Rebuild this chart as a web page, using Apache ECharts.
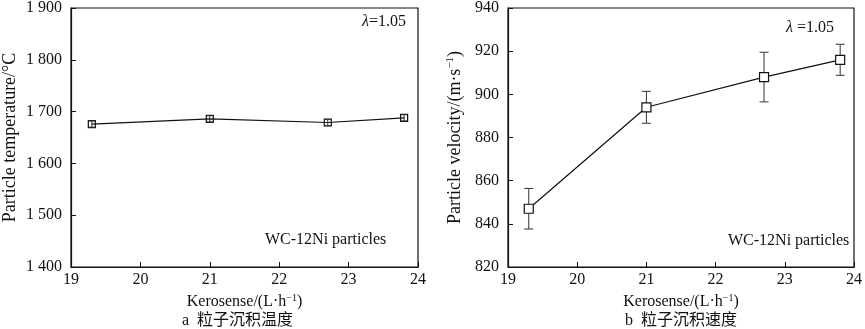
<!DOCTYPE html>
<html><head><meta charset="utf-8">
<script src="https://cdn.jsdelivr.net/npm/echarts@6/dist/echarts.min.js"></script>
<style>html,body{margin:0;padding:0;background:#fff}#c{width:865px;height:329px}</style>
</head><body><div id="c"></div>
<script>
var kerosene = [19.3, 21.0, 22.7, 23.8];
var tempVals = [1676, 1686, 1679, 1688];
var tempErr = [6, 6, 6, 6];
var velVals = [847, 894, 908, 916];
var velErr = [9.4, 7.4, 11.5, 7.2];
var xTicks = [19, 20, 21, 22, 23, 24];
var tempTicks = [1400, 1500, 1600, 1700, 1800, 1900];
var velTicks = [820, 840, 860, 880, 900, 920, 940];

var SERIF = '"Liberation Serif","Times New Roman",serif';
var chart = echarts.init(document.getElementById('c'), null, {renderer: 'canvas'});

function errItem(capW) {
  return function (params, api) {
    var x = api.value(0), y = api.value(1), e = api.value(2);
    var top = api.coord([x, y + e]), bot = api.coord([x, y - e]);
    var st = {stroke: '#333', lineWidth: 1};
    return {type: 'group', children: [
      {type: 'line', shape: {x1: top[0], y1: top[1], x2: bot[0], y2: bot[1]}, style: st},
      {type: 'line', shape: {x1: top[0] - capW, y1: top[1], x2: top[0] + capW, y2: top[1]}, style: st},
      {type: 'line', shape: {x1: bot[0] - capW, y1: bot[1], x2: bot[0] + capW, y2: bot[1]}, style: st}
    ]};
  };
}
function zipErr(vals, errs) { return kerosene.map(function (k, i) { return [k, vals[i], errs[i]]; }); }
function zip(vals) { return kerosene.map(function (k, i) { return [k, vals[i]]; }); }

var FS = 16;
var axisLbl = {color: '#111', fontFamily: SERIF, fontSize: FS};
var supStyle = {fontFamily: SERIF, fontSize: 10, color: '#111', verticalAlign: 'top', padding: [0, 0, 8, 0]};
function xAx(idx) {
  return {type: 'value', gridIndex: idx, min: 19, max: 24, interval: 1,
    axisLine: {show: true, onZero: false, lineStyle: {color: '#111', width: 1.2}},
    axisTick: {inside: true, length: 5, lineStyle: {color: '#111'}},
    axisLabel: Object.assign({margin: 5}, axisLbl),
    splitLine: {show: false},
    name: 'Kerosense/(L·h{sup|−1})', nameLocation: 'middle', nameGap: 26,
    nameTextStyle: {color: '#111', fontFamily: SERIF, fontSize: FS, rich: {sup: supStyle}}
  };
}
function yAx(idx, min, max, interval, name, gap, fmt) {
  return {type: 'value', gridIndex: idx, min: min, max: max, interval: interval,
    axisLine: {show: true, lineStyle: {color: '#111', width: 1.2}},
    axisTick: {inside: true, length: 5, lineStyle: {color: '#111'}},
    axisLabel: Object.assign({margin: 9, formatter: fmt}, axisLbl),
    splitLine: {show: false},
    name: name, nameLocation: 'middle', nameGap: gap,
    nameTextStyle: {color: '#111', fontFamily: SERIF, fontSize: 18,
      rich: {sup: {fontFamily: SERIF, fontSize: 11, color: '#111', verticalAlign: 'top', padding: [0, 0, 9, 0]}}}
  };
}

chart.setOption({
  animation: false,
  grid: [
    {left: 70, top: 6, width: 348, height: 261, show: true, borderColor: '#111', borderWidth: 1.2, backgroundColor: 'transparent'},
    {left: 508, top: 6, width: 349, height: 261, show: true, borderColor: '#111', borderWidth: 1.2, backgroundColor: 'transparent'}
  ],
  xAxis: [xAx(0), xAx(1)],
  yAxis: [
    yAx(0, 1400, 1900, 100, 'Particle temperature/°C', 52, function (v) { var s = String(v); return s.slice(0, 1) + ' ' + s.slice(1); }),
    yAx(1, 820, 940, 20, 'Particle velocity/(m·s{sup|−1})', 43, function (v) { return String(v); })
  ],
  series: [
    {type: 'custom', xAxisIndex: 0, yAxisIndex: 0, renderItem: errItem(3), data: zipErr(tempVals, tempErr), z: 3},
    {type: 'line', xAxisIndex: 0, yAxisIndex: 0, data: zip(tempVals), symbol: 'rect', symbolSize: 7,
      lineStyle: {color: '#111', width: 1.2}, itemStyle: {color: 'transparent', borderColor: '#111', borderWidth: 1.2}, z: 2},
    {type: 'custom', xAxisIndex: 1, yAxisIndex: 1, renderItem: errItem(4.5), data: zipErr(velVals, velErr), z: 1},
    {type: 'line', xAxisIndex: 1, yAxisIndex: 1, data: zip(velVals), symbol: 'rect', symbolSize: 9,
      lineStyle: {color: '#111', width: 1.2}, itemStyle: {color: '#fff', borderColor: '#111', borderWidth: 1.2}, z: 4}
  ],
  graphic: [
    {type: 'text', left: 362, top: 14, style: {text: '{i|λ}=1.05', fontFamily: SERIF, fontSize: FS, fill: '#111',
      rich: {i: {fontStyle: 'italic', fontFamily: SERIF, fontSize: FS, fill: '#111'}}}},
    {type: 'text', left: 786, top: 20, style: {text: '{i|λ} =1.05', fontFamily: SERIF, fontSize: FS, fill: '#111',
      rich: {i: {fontStyle: 'italic', fontFamily: SERIF, fontSize: FS, fill: '#111'}}}},
    {type: 'text', left: 265, top: 232, style: {text: 'WC-12Ni particles', fontFamily: SERIF, fontSize: FS, fill: '#111'}},
    {type: 'text', left: 728, top: 233, style: {text: 'WC-12Ni particles', fontFamily: SERIF, fontSize: FS, fill: '#111'}},
    {type: 'text', left: 182, top: 313, style: {text: 'a  粒子沉积温度', fontFamily: SERIF + ',"Noto Sans CJK SC"', fontSize: FS, fill: '#111'}},
    {type: 'text', left: 625, top: 313, style: {text: 'b  粒子沉积速度', fontFamily: SERIF + ',"Noto Sans CJK SC"', fontSize: FS, fill: '#111'}}
  ]
});
</script></body></html>
